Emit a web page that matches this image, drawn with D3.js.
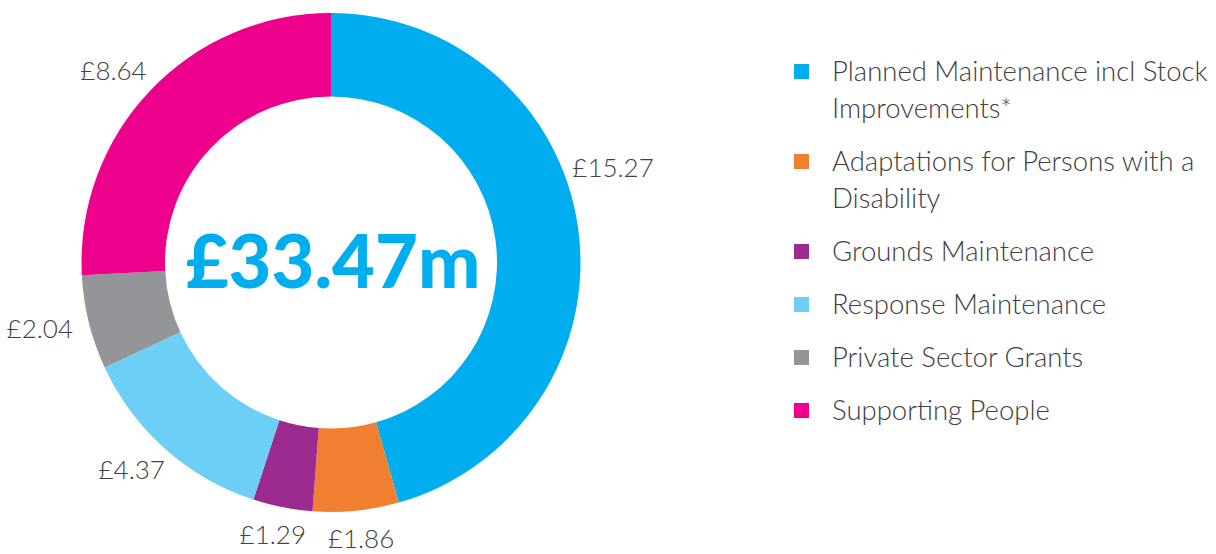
<html>
<head>
<title>Spend breakdown</title>
<script src="https://d3js.org/d3.v7.min.js"></script>
<style>
body { margin: 0; background: #fff; }
text { font-family: "Source Sans Pro", Lato, "Open Sans", sans-serif; }
</style>
</head>
<body>
<svg width="1216" height="554"></svg>
<script>
// data
var categories = ["Planned Maintenance incl Stock Improvements*", "Adaptations for Persons with a Disability",
  "Grounds Maintenance", "Response Maintenance", "Private Sector Grants", "Supporting People"];
var values = [15.27, 1.86, 1.29, 4.37, 2.04, 8.64];
var colours = ["#00aeef", "#f07f30", "#9b2b8e", "#6dcff6", "#939598", "#ec008c"];
var totalLabel = "£33.47m";

var svg = d3.select("svg");
var cx = 331, cy = 262.5;
var outerR = 249.5, innerR = 166;

var data = categories.map(function (c, i) { return {name: c, value: values[i]}; });

var pie = d3.pie().sort(null).value(function (d) { return d.value; });
var arc = d3.arc().innerRadius(innerR).outerRadius(outerR);
var colour = d3.scaleOrdinal().domain(categories).range(colours);
var arcs = pie(data);

var g = svg.append("g").attr("transform", "translate(" + cx + "," + cy + ")");

g.selectAll("path")
  .data(arcs)
  .enter()
  .append("path")
    .attr("d", arc)
    .attr("fill", function (d) { return colour(d.data.name); });

// value labels round the ring
g.selectAll("text.val")
  .data(arcs)
  .enter()
  .append("text")
    .attr("class", "val")
    .attr("x", function (d) { return 300 * Math.sin(labelAngle(d)); })
    .attr("y", function (d) { return -278 * Math.cos(labelAngle(d)); })
    .attr("dy", "0.35em")
    .style("text-anchor", "middle")
    .style("font-size", "26px")
    .style("font-weight", 300)
    .attr("fill", "#414042")
    .text(function (d) { return "£" + d.data.value.toFixed(2); });

function labelAngle(d) {
  var a = (d.startAngle + d.endAngle) / 2;
  // the big slice has its label pulled up a little
  if (d.index === 0) a -= 0.21;
  return a;
}

g.append("text")
  .attr("x", 2)
  .attr("y", 25)
  .style("text-anchor", "middle")
  .style("font-size", "74px")
  .style("font-weight", 900)
  .attr("fill", "#00aeef")
  .text(totalLabel);

// legend
var legend = svg.append("g").attr("transform", "translate(794,0)");
var y = 81;
data.forEach(function (d) {
  var item = legend.append("g");
  item.append("rect")
    .attr("x", 0).attr("y", y - 17)
    .attr("width", 15).attr("height", 15)
    .attr("fill", colour(d.name));
  var t = item.append("text")
    .attr("x", 38).attr("y", y)
    .style("font-size", "27.5px")
    .style("font-weight", 300)
    .attr("fill", "#414042");
  var lines = wrap(t, d.name, 390);
  y += 37 * (lines - 1) + 53;
});

function wrap(t, str, maxW) {
  var words = str.split(" "), line = [], n = 0;
  var ts = t.append("tspan").attr("x", 38).attr("dy", 0);
  words.forEach(function (w) {
    line.push(w);
    ts.text(line.join(" "));
    if (ts.node().getComputedTextLength() > maxW && line.length > 1) {
      line.pop();
      ts.text(line.join(" "));
      line = [w];
      ts = t.append("tspan").attr("x", 38).attr("dy", 37).text(w);
      n++;
    }
  });
  return n + 1;
}
</script>
</body>
</html>
